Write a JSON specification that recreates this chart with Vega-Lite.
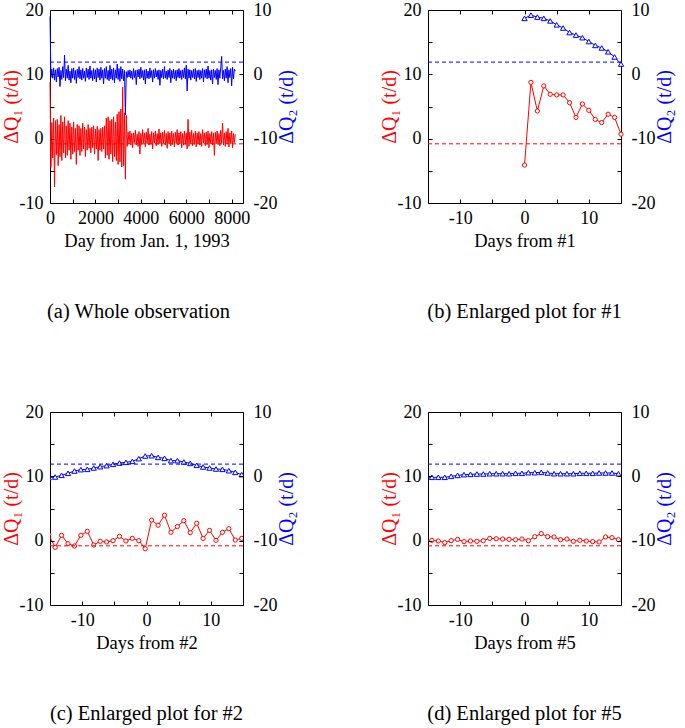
{
  "$schema": "https://vega.github.io/schema/vega-lite/v6.json",
  "padding": {"left": 0, "top": 0, "right": 2, "bottom": 2},
  "background": "#ffffff",
  "config": {
    "font": "Liberation Serif",
    "view": {"stroke": "#000000", "strokeWidth": 1},
    "axis": {"domain": false, "grid": false, "ticks": false, "tickColor": "#000000", "tickWidth": 1, "labelPadding": 6, "labelFontSize": 18, "labelColor": "#000000", "labelOverlap": false, "labelFlush": false, "titleFontSize": 20, "titleFontWeight": "normal", "titleColor": "#000000"},
    "title": {"fontSize": 20.5, "fontWeight": "normal", "color": "#000000", "font": "Liberation Serif"}
  },
  "datasets": {
    "a": [
      {"day":0,"q1":8.8,"q2":9.0},{"day":40,"q1":-4.5,"q2":-0.5},{"day":80,"q1":2.5,"q2":0.8},{"day":120,"q1":-3.0,"q2":-0.6},{"day":160,"q1":3.2,"q2":1.0},{"day":200,"q1":-7.5,"q2":-0.9},{"day":240,"q1":2.8,"q2":0.7},{"day":280,"q1":-2.5,"q2":-1.2},{"day":320,"q1":3.0,"q2":0.9},{"day":360,"q1":-4.2,"q2":-0.4},
      {"day":400,"q1":2.2,"q2":1.1},{"day":440,"q1":-2.8,"q2":-1.9},{"day":480,"q1":3.6,"q2":0.6},{"day":520,"q1":-3.4,"q2":-0.8},{"day":560,"q1":2.6,"q2":1.2},{"day":600,"q1":-2.2,"q2":-0.5},{"day":640,"q1":3.4,"q2":3.0},{"day":680,"q1":-3.0,"q2":-1.0},{"day":720,"q1":2.0,"q2":0.8},{"day":760,"q1":-2.6,"q2":-0.6},
      {"day":800,"q1":2.8,"q2":1.4},{"day":840,"q1":-1.8,"q2":-0.9},{"day":880,"q1":2.4,"q2":0.5},{"day":920,"q1":-3.2,"q2":-1.3},{"day":960,"q1":1.8,"q2":0.9},{"day":1000,"q1":-2.4,"q2":-0.6},{"day":1040,"q1":2.6,"q2":1.0},{"day":1080,"q1":-2.0,"q2":-0.8},{"day":1120,"q1":1.6,"q2":0.6},{"day":1160,"q1":-4.0,"q2":-1.4},
      {"day":1200,"q1":2.2,"q2":0.8},{"day":1240,"q1":-1.8,"q2":-0.5},{"day":1280,"q1":2.0,"q2":1.2},{"day":1320,"q1":-2.6,"q2":-0.7},{"day":1360,"q1":1.6,"q2":0.7},{"day":1400,"q1":-2.0,"q2":-0.9},{"day":1440,"q1":2.4,"q2":0.9},{"day":1480,"q1":-1.6,"q2":-0.6},{"day":1520,"q1":1.8,"q2":0.5},{"day":1560,"q1":-2.8,"q2":-1.1},
      {"day":1600,"q1":1.4,"q2":1.0},{"day":1640,"q1":-1.8,"q2":-0.5},{"day":1680,"q1":2.2,"q2":0.8},{"day":1720,"q1":-1.5,"q2":-0.8},{"day":1760,"q1":1.6,"q2":1.3},{"day":1800,"q1":-2.2,"q2":-0.6},{"day":1840,"q1":1.8,"q2":0.6},{"day":1880,"q1":-1.4,"q2":-1.0},{"day":1920,"q1":2.0,"q2":0.9},{"day":1960,"q1":-2.4,"q2":-0.7},
      {"day":2000,"q1":1.5,"q2":0.7},{"day":2040,"q1":-1.6,"q2":-1.2},{"day":2080,"q1":1.9,"q2":1.0},{"day":2120,"q1":-3.4,"q2":-0.5},{"day":2160,"q1":1.4,"q2":0.8},{"day":2200,"q1":-1.8,"q2":-0.9},{"day":2240,"q1":1.6,"q2":1.1},{"day":2280,"q1":-2.0,"q2":-0.6},{"day":2320,"q1":1.8,"q2":0.7},{"day":2360,"q1":-1.6,"q2":-1.5},
      {"day":2400,"q1":2.0,"q2":0.9},{"day":2440,"q1":-3.0,"q2":-0.6},{"day":2480,"q1":3.2,"q2":1.2},{"day":2520,"q1":-2.6,"q2":-0.8},{"day":2560,"q1":3.4,"q2":0.6},{"day":2600,"q1":-3.2,"q2":-1.0},{"day":2640,"q1":2.8,"q2":1.4},{"day":2680,"q1":-2.4,"q2":-0.7},{"day":2720,"q1":3.0,"q2":0.8},{"day":2760,"q1":-3.6,"q2":-0.9},
      {"day":2800,"q1":3.4,"q2":1.0},{"day":2840,"q1":-2.8,"q2":-1.3},{"day":2880,"q1":2.6,"q2":0.7},{"day":2920,"q1":-3.4,"q2":-0.6},{"day":2960,"q1":3.8,"q2":1.6},{"day":3000,"q1":-4.0,"q2":-0.8},{"day":3040,"q1":4.2,"q2":0.9},{"day":3080,"q1":-3.6,"q2":-1.1},{"day":3120,"q1":4.6,"q2":1.2},{"day":3160,"q1":-4.4,"q2":-0.7},
      {"day":3200,"q1":8.0,"q2":0.8},{"day":3240,"q1":-4.2,"q2":-1.0},{"day":3280,"q1":4.0,"q2":0.6},{"day":3320,"q1":-6.3,"q2":-6.3},{"day":3360,"q1":3.6,"q2":0.4},{"day":3400,"q1":-1.2,"q2":-0.5},{"day":3440,"q1":1.0,"q2":0.6},{"day":3480,"q1":-0.8,"q2":-0.4},{"day":3520,"q1":1.2,"q2":0.7},{"day":3560,"q1":-1.0,"q2":-0.6},
      {"day":3600,"q1":0.8,"q2":0.5},{"day":3640,"q1":-1.4,"q2":-0.8},{"day":3680,"q1":0.9,"q2":0.9},{"day":3720,"q1":-0.6,"q2":-0.5},{"day":3760,"q1":1.3,"q2":0.6},{"day":3800,"q1":-1.0,"q2":-1.6},{"day":3840,"q1":0.7,"q2":0.7},{"day":3880,"q1":-1.2,"q2":-0.4},{"day":3920,"q1":1.1,"q2":0.8},{"day":3960,"q1":-2.4,"q2":-0.7},
      {"day":4000,"q1":0.8,"q2":1.1},{"day":4040,"q1":-0.9,"q2":-0.5},{"day":4080,"q1":1.4,"q2":0.6},{"day":4120,"q1":-0.7,"q2":-0.9},{"day":4160,"q1":0.9,"q2":0.7},{"day":4200,"q1":-1.3,"q2":-1.5},{"day":4240,"q1":1.0,"q2":0.8},{"day":4280,"q1":-0.8,"q2":-0.6},{"day":4320,"q1":1.6,"q2":0.5},{"day":4360,"q1":-1.0,"q2":-0.7},
      {"day":4400,"q1":0.7,"q2":1.0},{"day":4440,"q1":-0.9,"q2":-0.5},{"day":4480,"q1":1.1,"q2":0.6},{"day":4520,"q1":-1.6,"q2":-1.2},{"day":4560,"q1":0.9,"q2":0.7},{"day":4600,"q1":-0.7,"q2":-0.6},{"day":4640,"q1":1.2,"q2":0.9},{"day":4680,"q1":-1.1,"q2":-0.4},{"day":4720,"q1":0.8,"q2":0.6},{"day":4760,"q1":-0.9,"q2":-0.8},
      {"day":4800,"q1":1.5,"q2":0.7},{"day":4840,"q1":-0.8,"q2":-1.7},{"day":4880,"q1":0.9,"q2":0.6},{"day":4920,"q1":-1.2,"q2":-0.5},{"day":4960,"q1":1.0,"q2":0.8},{"day":5000,"q1":-0.7,"q2":-0.7},{"day":5040,"q1":1.3,"q2":1.2},{"day":5080,"q1":-1.0,"q2":-0.6},{"day":5120,"q1":0.8,"q2":0.5},{"day":5160,"q1":-1.5,"q2":-0.8},
      {"day":5200,"q1":1.1,"q2":0.7},{"day":5240,"q1":-0.8,"q2":-0.5},{"day":5280,"q1":0.9,"q2":0.9},{"day":5320,"q1":-1.1,"q2":-1.3},{"day":5360,"q1":1.2,"q2":0.6},{"day":5400,"q1":-0.9,"q2":-0.6},{"day":5440,"q1":0.8,"q2":0.8},{"day":5480,"q1":-1.3,"q2":-0.7},{"day":5520,"q1":1.0,"q2":0.6},{"day":5560,"q1":-0.7,"q2":-1.0},
      {"day":5600,"q1":1.4,"q2":0.7},{"day":5640,"q1":-1.0,"q2":-0.5},{"day":5680,"q1":0.9,"q2":0.9},{"day":5720,"q1":-0.8,"q2":-0.6},{"day":5760,"q1":1.1,"q2":0.6},{"day":5800,"q1":-1.4,"q2":-0.8},{"day":5840,"q1":0.8,"q2":0.7},{"day":5880,"q1":-1.0,"q2":-0.5},{"day":5920,"q1":1.2,"q2":1.0},{"day":5960,"q1":-0.9,"q2":-0.7},
      {"day":6000,"q1":0.9,"q2":1.4},{"day":6040,"q1":-1.6,"q2":-2.6},{"day":6080,"q1":3.0,"q2":0.8},{"day":6120,"q1":-1.2,"q2":-0.6},{"day":6160,"q1":1.0,"q2":0.7},{"day":6200,"q1":-0.8,"q2":-0.9},{"day":6240,"q1":1.3,"q2":0.6},{"day":6280,"q1":-1.1,"q2":-0.5},{"day":6320,"q1":0.8,"q2":0.8},{"day":6360,"q1":-0.9,"q2":-0.7},
      {"day":6400,"q1":1.2,"q2":0.9},{"day":6440,"q1":-1.3,"q2":-1.1},{"day":6480,"q1":0.9,"q2":0.6},{"day":6520,"q1":-0.8,"q2":-0.5},{"day":6560,"q1":1.1,"q2":0.7},{"day":6600,"q1":-1.0,"q2":-0.8},{"day":6640,"q1":0.8,"q2":0.6},{"day":6680,"q1":-1.2,"q2":-0.6},{"day":6720,"q1":1.4,"q2":0.9},{"day":6760,"q1":-0.7,"q2":-1.2},
      {"day":6800,"q1":0.9,"q2":0.7},{"day":6840,"q1":-1.1,"q2":-0.5},{"day":6880,"q1":1.0,"q2":0.8},{"day":6920,"q1":-0.9,"q2":-0.7},{"day":6960,"q1":1.2,"q2":1.3},{"day":7000,"q1":-1.4,"q2":-0.6},{"day":7040,"q1":0.8,"q2":0.6},{"day":7080,"q1":-0.8,"q2":-0.9},{"day":7120,"q1":1.1,"q2":0.7},{"day":7160,"q1":-1.0,"q2":-1.5},
      {"day":7200,"q1":0.9,"q2":0.8},{"day":7240,"q1":-2.6,"q2":-0.5},{"day":7280,"q1":1.0,"q2":0.6},{"day":7320,"q1":-0.8,"q2":-0.8},{"day":7360,"q1":1.2,"q2":0.9},{"day":7400,"q1":-0.9,"q2":-1.6},{"day":7440,"q1":0.8,"q2":0.7},{"day":7480,"q1":-1.1,"q2":-0.6},{"day":7520,"q1":1.3,"q2":1.0},{"day":7560,"q1":-0.7,"q2":2.8},
      {"day":7600,"q1":2.4,"q2":-0.7},{"day":7640,"q1":-1.0,"q2":0.6},{"day":7680,"q1":0.9,"q2":-1.0},{"day":7720,"q1":-1.2,"q2":0.8},{"day":7760,"q1":1.1,"q2":-0.6},{"day":7800,"q1":-0.8,"q2":1.2},{"day":7840,"q1":1.6,"q2":-1.3},{"day":7880,"q1":-1.3,"q2":0.7},{"day":7920,"q1":0.9,"q2":-0.5},{"day":7960,"q1":-0.8,"q2":0.9},
      {"day":8000,"q1":1.2,"q2":-1.8},{"day":8040,"q1":-1.4,"q2":1.1},{"day":8080,"q1":0.8,"q2":-0.7},{"day":8120,"q1":-0.6,"q2":0.8},{"day":8160,"q1":0.7,"q2":0.5}
    ],
    "b": [
      {"day":0,"q1":-4.1,"q2":8.7},{"day":1,"q1":8.75,"q2":9.2},{"day":2,"q1":4.3,"q2":8.9},{"day":3,"q1":8.2,"q2":8.7},{"day":4,"q1":6.9,"q2":8.3},{"day":5,"q1":6.8,"q2":7.7},{"day":6,"q1":6.8,"q2":7.2},{"day":7,"q1":5.6,"q2":6.5},
      {"day":8,"q1":3.3,"q2":6.1},{"day":9,"q1":5.4,"q2":5.7},{"day":10,"q1":4.4,"q2":5.1},{"day":11,"q1":3.0,"q2":4.5},{"day":12,"q1":2.5,"q2":4.1},{"day":13,"q1":3.8,"q2":3.5},{"day":14,"q1":3.3,"q2":2.7},{"day":15,"q1":0.7,"q2":1.6}
    ],
    "c": [
      {"day":-15.2,"q1":0.95,"q2":-0.2},{"day":-14.2,"q1":-1.04,"q2":-0.1},{"day":-13.2,"q1":0.83,"q2":0.16},{"day":-12.2,"q1":-0.47,"q2":0.47},{"day":-11.2,"q1":-0.83,"q2":0.83},{"day":-10.2,"q1":0.83,"q2":1.04},{"day":-9.2,"q1":1.45,"q2":1.09},{"day":-8.2,"q1":-0.67,"q2":1.3},
      {"day":-7.2,"q1":-0.1,"q2":1.5},{"day":-6.2,"q1":-0.2,"q2":1.66},{"day":-5.2,"q1":0,"q2":1.87},{"day":-4.2,"q1":0.67,"q2":2.07},{"day":-3.2,"q1":-0.05,"q2":2.18},{"day":-2.2,"q1":0.36,"q2":2.33},{"day":-1.2,"q1":0,"q2":2.75},{"day":-0.2,"q1":-1.25,"q2":3.16},
      {"day":0.8,"q1":3.2,"q2":3.21},{"day":1.8,"q1":2.4,"q2":2.95},{"day":2.8,"q1":3.95,"q2":2.8},{"day":3.8,"q1":1.3,"q2":2.44},{"day":4.8,"q1":2.2,"q2":2.44},{"day":5.8,"q1":3.1,"q2":2.23},{"day":6.8,"q1":1.25,"q2":2.02},{"day":7.8,"q1":2.7,"q2":1.71},
      {"day":8.8,"q1":0.36,"q2":1.45},{"day":9.8,"q1":1.6,"q2":1.3},{"day":10.8,"q1":0.05,"q2":1.14},{"day":11.8,"q1":1.3,"q2":1.09},{"day":12.8,"q1":1.87,"q2":0.88},{"day":13.8,"q1":0.1,"q2":0.62},{"day":14.8,"q1":0.36,"q2":0.26}
    ],
    "d": [
      {"day":-15.4,"q1":0.0,"q2":-0.2},{"day":-14.4,"q1":0.05,"q2":-0.15},{"day":-13.4,"q1":-0.05,"q2":-0.15},{"day":-12.4,"q1":-0.3,"q2":-0.15},{"day":-11.4,"q1":0,"q2":0},{"day":-10.4,"q1":0.2,"q2":0.15},{"day":-9.4,"q1":-0.15,"q2":0.26},{"day":-8.4,"q1":-0.05,"q2":0.31},
      {"day":-7.4,"q1":-0.1,"q2":0.36},{"day":-6.4,"q1":0,"q2":0.36},{"day":-5.4,"q1":0.36,"q2":0.41},{"day":-4.4,"q1":0.3,"q2":0.41},{"day":-3.4,"q1":0.25,"q2":0.41},{"day":-2.4,"q1":0.2,"q2":0.41},{"day":-1.4,"q1":0.15,"q2":0.47},{"day":-0.4,"q1":0.25,"q2":0.47},
      {"day":0.6,"q1":0,"q2":0.57},{"day":1.6,"q1":0.62,"q2":0.57},{"day":2.6,"q1":1.1,"q2":0.62},{"day":3.6,"q1":0.62,"q2":0.52},{"day":4.6,"q1":0.57,"q2":0.41},{"day":5.6,"q1":0.15,"q2":0.41},{"day":6.6,"q1":0.25,"q2":0.41},{"day":7.6,"q1":-0.1,"q2":0.41},
      {"day":8.6,"q1":0.05,"q2":0.47},{"day":9.6,"q1":-0.05,"q2":0.47},{"day":10.6,"q1":-0.15,"q2":0.47},{"day":11.6,"q1":-0.2,"q2":0.52},{"day":12.6,"q1":0.57,"q2":0.52},{"day":13.6,"q1":0.47,"q2":0.52},{"day":14.6,"q1":0.15,"q2":0.41}
    ]
  },
  "columns": 2,
  "spacing": {"row": 79, "column": 80},
  "concat": [
    {
      "width": 193, "height": 193,
      "title": {"text": "(a) Whole observation", "orient": "bottom", "offset": 52, "dx": -8},
      "data": {"name": "a"},
      "layer": [
        {"mark": {"type": "line", "color": "#ff0000", "strokeWidth": 1},
         "encoding": {
           "x": {"field": "day", "type": "quantitative", "scale": {"domain": [0, 8500], "nice": false, "zero": false},
                 "axis": {"orient": "bottom", "values": [0,2000,4000,6000,8000], "labelExpr": "'' + datum.value", "title": "Day from Jan. 1, 1993", "titleFontSize": 18.5}},
           "y": {"field": "q1", "type": "quantitative", "scale": {"domain": [-10, 20], "nice": false},
                 "axis": {"orient": "left", "values": [-10,0,10,20], "labelExpr": "'' + datum.value", "labelPadding": 7, "title": "ΔQ₁ (t/d)", "titleColor": "#ff0000", "titlePadding": -2}}}},
        {"data": {"values": [{}]}, "mark": {"type": "rule", "color": "#ff0000", "strokeDash": [4, 3], "strokeWidth": 1},
         "encoding": {
           "x": {"datum": 0, "axis": {"orient": "bottom", "values": [0,1000,2000,3000,4000,5000,6000,7000,8000], "labels": false, "ticks": true, "tickSize": 4, "offset": -4, "title": null, "zindex": 2}},
           "x2": {"datum": 8500},
           "y": {"datum": -0.8, "scale": {"domain": [-10, 20], "nice": false}, "axis": {"orient": "left", "values": [-10,-5,0,5,10,15,20], "labels": false, "ticks": true, "tickSize": 4, "offset": -4, "title": null, "zindex": 2}}}},
        {"mark": {"type": "line", "color": "#0000ff", "strokeWidth": 1},
         "encoding": {
           "x": {"field": "day", "type": "quantitative", "axis": null},
           "y": {"field": "q2", "type": "quantitative", "scale": {"domain": [-20, 10], "nice": false},
                 "axis": {"orient": "right", "values": [-20,-10,0,10], "labelExpr": "'' + datum.value", "labelPadding": 10, "title": "ΔQ₂ (t/d)", "titleColor": "#0000ff", "titleAngle": 270, "titleBaseline": "top", "titlePadding": 0}}}},
        {"data": {"values": [{}]}, "mark": {"type": "rule", "color": "#0000ff", "strokeDash": [4, 3], "strokeWidth": 1},
         "encoding": {
           "x": {"datum": 0, "axis": {"orient": "top", "values": [0,1000,2000,3000,4000,5000,6000,7000,8000], "labels": false, "ticks": true, "tickSize": 4, "offset": -4, "title": null, "zindex": 2}},
           "x2": {"datum": 8500},
           "y": {"datum": 1.9, "scale": {"domain": [-20, 10], "nice": false}, "axis": {"orient": "right", "values": [-20,-15,-10,-5,0,5,10], "labels": false, "ticks": true, "tickSize": 4, "offset": -4, "title": null, "zindex": 2}}}}
      ],
      "resolve": {"scale": {"y": "independent"}, "axis": {"x": "independent", "y": "independent"}}
    },
    {
      "width": 193, "height": 193,
      "title": {"text": "(b) Enlarged plot for #1", "orient": "bottom", "offset": 52},
      "data": {"name": "b"},
      "layer": [
        {"mark": {"type": "line", "color": "#ff0000", "strokeWidth": 1, "point": {"shape": "circle", "filled": false, "fill": "#ffffff", "size": 18, "color": "#ff0000", "strokeWidth": 1}},
         "encoding": {
           "x": {"field": "day", "type": "quantitative", "scale": {"domain": [-15, 15], "nice": false, "zero": false},
                 "axis": {"orient": "bottom", "values": [-10,0,10], "labelExpr": "'' + datum.value", "title": "Days from #1", "titleFontSize": 18.5}},
           "y": {"field": "q1", "type": "quantitative", "scale": {"domain": [-10, 20], "nice": false},
                 "axis": {"orient": "left", "values": [-10,0,10,20], "labelExpr": "'' + datum.value", "labelPadding": 7, "title": "ΔQ₁ (t/d)", "titleColor": "#ff0000", "titlePadding": -2}}}},
        {"data": {"values": [{}]}, "mark": {"type": "rule", "color": "#ff0000", "strokeDash": [4, 3], "strokeWidth": 1},
         "encoding": {
           "x": {"datum": -15, "axis": {"orient": "bottom", "values": [-15,-10,-5,0,5,10,15], "labels": false, "ticks": true, "tickSize": 4, "offset": -4, "title": null, "zindex": 2}},
           "x2": {"datum": 15},
           "y": {"datum": -0.8, "scale": {"domain": [-10, 20], "nice": false}, "axis": {"orient": "left", "values": [-10,-5,0,5,10,15,20], "labels": false, "ticks": true, "tickSize": 4, "offset": -4, "title": null, "zindex": 2}}}},
        {"mark": {"type": "line", "color": "#0000ff", "strokeWidth": 1, "point": {"shape": "triangle-up", "filled": false, "fill": "#ffffff", "size": 28, "color": "#0000ff", "strokeWidth": 1}},
         "encoding": {
           "x": {"field": "day", "type": "quantitative", "axis": null},
           "y": {"field": "q2", "type": "quantitative", "scale": {"domain": [-20, 10], "nice": false},
                 "axis": {"orient": "right", "values": [-20,-10,0,10], "labelExpr": "'' + datum.value", "labelPadding": 10, "title": "ΔQ₂ (t/d)", "titleColor": "#0000ff", "titleAngle": 270, "titleBaseline": "top", "titlePadding": 0}}}},
        {"data": {"values": [{}]}, "mark": {"type": "rule", "color": "#0000ff", "strokeDash": [4, 3], "strokeWidth": 1},
         "encoding": {
           "x": {"datum": -15, "axis": {"orient": "top", "values": [-15,-10,-5,0,5,10,15], "labels": false, "ticks": true, "tickSize": 4, "offset": -4, "title": null, "zindex": 2}},
           "x2": {"datum": 15},
           "y": {"datum": 1.9, "scale": {"domain": [-20, 10], "nice": false}, "axis": {"orient": "right", "values": [-20,-15,-10,-5,0,5,10], "labels": false, "ticks": true, "tickSize": 4, "offset": -4, "title": null, "zindex": 2}}}}
      ],
      "resolve": {"scale": {"y": "independent"}, "axis": {"x": "independent", "y": "independent"}}
    },
    {
      "width": 193, "height": 193,
      "title": {"text": "(c) Enlarged plot for #2", "orient": "bottom", "offset": 52},
      "data": {"name": "c"},
      "layer": [
        {"mark": {"type": "line", "color": "#ff0000", "strokeWidth": 1, "clip": true, "point": {"shape": "circle", "filled": false, "fill": "#ffffff", "size": 18, "color": "#ff0000", "strokeWidth": 1, "clip": true}},
         "encoding": {
           "x": {"field": "day", "type": "quantitative", "scale": {"domain": [-15, 15], "nice": false, "zero": false},
                 "axis": {"orient": "bottom", "values": [-10,0,10], "labelExpr": "'' + datum.value", "title": "Days from #2", "titleFontSize": 18.5}},
           "y": {"field": "q1", "type": "quantitative", "scale": {"domain": [-10, 20], "nice": false},
                 "axis": {"orient": "left", "values": [-10,0,10,20], "labelExpr": "'' + datum.value", "labelPadding": 7, "title": "ΔQ₁ (t/d)", "titleColor": "#ff0000", "titlePadding": -2}}}},
        {"data": {"values": [{}]}, "mark": {"type": "rule", "color": "#ff0000", "strokeDash": [4, 3], "strokeWidth": 1},
         "encoding": {
           "x": {"datum": -15, "axis": {"orient": "bottom", "values": [-15,-10,-5,0,5,10,15], "labels": false, "ticks": true, "tickSize": 4, "offset": -4, "title": null, "zindex": 2}},
           "x2": {"datum": 15},
           "y": {"datum": -0.8, "scale": {"domain": [-10, 20], "nice": false}, "axis": {"orient": "left", "values": [-10,-5,0,5,10,15,20], "labels": false, "ticks": true, "tickSize": 4, "offset": -4, "title": null, "zindex": 2}}}},
        {"mark": {"type": "line", "color": "#0000ff", "strokeWidth": 1, "clip": true, "point": {"shape": "triangle-up", "filled": false, "fill": "#ffffff", "size": 28, "color": "#0000ff", "strokeWidth": 1, "clip": true}},
         "encoding": {
           "x": {"field": "day", "type": "quantitative", "axis": null},
           "y": {"field": "q2", "type": "quantitative", "scale": {"domain": [-20, 10], "nice": false},
                 "axis": {"orient": "right", "values": [-20,-10,0,10], "labelExpr": "'' + datum.value", "labelPadding": 10, "title": "ΔQ₂ (t/d)", "titleColor": "#0000ff", "titleAngle": 270, "titleBaseline": "top", "titlePadding": 0}}}},
        {"data": {"values": [{}]}, "mark": {"type": "rule", "color": "#0000ff", "strokeDash": [4, 3], "strokeWidth": 1},
         "encoding": {
           "x": {"datum": -15, "axis": {"orient": "top", "values": [-15,-10,-5,0,5,10,15], "labels": false, "ticks": true, "tickSize": 4, "offset": -4, "title": null, "zindex": 2}},
           "x2": {"datum": 15},
           "y": {"datum": 1.9, "scale": {"domain": [-20, 10], "nice": false}, "axis": {"orient": "right", "values": [-20,-15,-10,-5,0,5,10], "labels": false, "ticks": true, "tickSize": 4, "offset": -4, "title": null, "zindex": 2}}}}
      ],
      "resolve": {"scale": {"y": "independent"}, "axis": {"x": "independent", "y": "independent"}}
    },
    {
      "width": 193, "height": 193,
      "title": {"text": "(d) Enlarged plot for #5", "orient": "bottom", "offset": 52},
      "data": {"name": "d"},
      "layer": [
        {"mark": {"type": "line", "color": "#ff0000", "strokeWidth": 1, "clip": true, "point": {"shape": "circle", "filled": false, "fill": "#ffffff", "size": 18, "color": "#ff0000", "strokeWidth": 1, "clip": true}},
         "encoding": {
           "x": {"field": "day", "type": "quantitative", "scale": {"domain": [-15, 15], "nice": false, "zero": false},
                 "axis": {"orient": "bottom", "values": [-10,0,10], "labelExpr": "'' + datum.value", "title": "Days from #5", "titleFontSize": 18.5}},
           "y": {"field": "q1", "type": "quantitative", "scale": {"domain": [-10, 20], "nice": false},
                 "axis": {"orient": "left", "values": [-10,0,10,20], "labelExpr": "'' + datum.value", "labelPadding": 7, "title": "ΔQ₁ (t/d)", "titleColor": "#ff0000", "titlePadding": -2}}}},
        {"data": {"values": [{}]}, "mark": {"type": "rule", "color": "#ff0000", "strokeDash": [4, 3], "strokeWidth": 1},
         "encoding": {
           "x": {"datum": -15, "axis": {"orient": "bottom", "values": [-15,-10,-5,0,5,10,15], "labels": false, "ticks": true, "tickSize": 4, "offset": -4, "title": null, "zindex": 2}},
           "x2": {"datum": 15},
           "y": {"datum": -0.8, "scale": {"domain": [-10, 20], "nice": false}, "axis": {"orient": "left", "values": [-10,-5,0,5,10,15,20], "labels": false, "ticks": true, "tickSize": 4, "offset": -4, "title": null, "zindex": 2}}}},
        {"mark": {"type": "line", "color": "#0000ff", "strokeWidth": 1, "clip": true, "point": {"shape": "triangle-up", "filled": false, "fill": "#ffffff", "size": 28, "color": "#0000ff", "strokeWidth": 1, "clip": true}},
         "encoding": {
           "x": {"field": "day", "type": "quantitative", "axis": null},
           "y": {"field": "q2", "type": "quantitative", "scale": {"domain": [-20, 10], "nice": false},
                 "axis": {"orient": "right", "values": [-20,-10,0,10], "labelExpr": "'' + datum.value", "labelPadding": 10, "title": "ΔQ₂ (t/d)", "titleColor": "#0000ff", "titleAngle": 270, "titleBaseline": "top", "titlePadding": 0}}}},
        {"data": {"values": [{}]}, "mark": {"type": "rule", "color": "#0000ff", "strokeDash": [4, 3], "strokeWidth": 1},
         "encoding": {
           "x": {"datum": -15, "axis": {"orient": "top", "values": [-15,-10,-5,0,5,10,15], "labels": false, "ticks": true, "tickSize": 4, "offset": -4, "title": null, "zindex": 2}},
           "x2": {"datum": 15},
           "y": {"datum": 1.9, "scale": {"domain": [-20, 10], "nice": false}, "axis": {"orient": "right", "values": [-20,-15,-10,-5,0,5,10], "labels": false, "ticks": true, "tickSize": 4, "offset": -4, "title": null, "zindex": 2}}}}
      ],
      "resolve": {"scale": {"y": "independent"}, "axis": {"x": "independent", "y": "independent"}}
    }
  ]
}
